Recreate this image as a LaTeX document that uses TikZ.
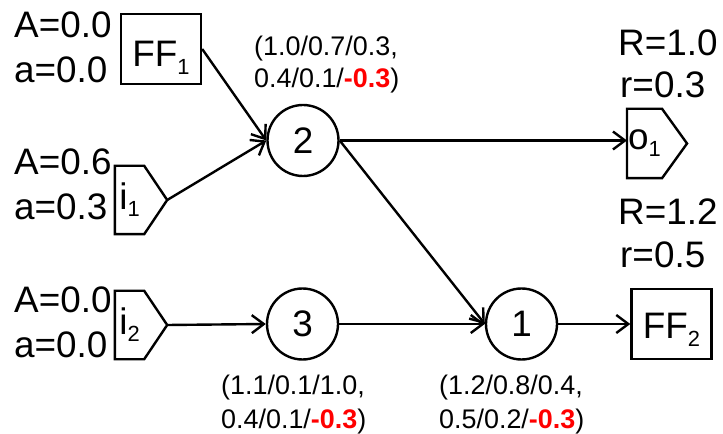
\documentclass[tikz,border=0pt]{standalone}
\usepackage{fontspec}
\setmainfont{Liberation Sans}
\usetikzlibrary{arrows.meta}
% lowered small index, e.g. FF_1
\newcommand{\lowsub}[2][8bp]{\raisebox{-#1}{\fontsize{22}{22}\selectfont #2}}
\newcommand{\negw}[1]{\textcolor{red}{\textbf{#1}}}

\begin{document}
\begin{tikzpicture}[x=1bp, y=-1bp, line width=2.4bp,
  big/.style={font=\fontsize{37}{44}\selectfont, inner sep=0pt, anchor=base west},
  param/.style={font=\fontsize{27}{32}\selectfont, inner sep=0pt, anchor=base west},
  unit/.style={circle, draw, minimum size=71bp, inner sep=0pt, font=\fontsize{37}{44}\selectfont},
  ffbox/.style={draw, rectangle, minimum width=80bp, minimum height=70bp, inner sep=0pt,
    font=\fontsize{37}{44}\selectfont, text depth=0pt},
  port/.style={rectangle, minimum width=27bp, minimum height=66bp, inner sep=0pt,
    font=\fontsize{37}{44}\selectfont},
  link/.style={-{Straight Barb[length=12bp,width=18bp]}}]
\useasboundingbox (0,0) rectangle (723,434);

% flip-flops
\node[ffbox, text height=36bp] (ff1) at (161,49) {FF\lowsub{1}};
\node[ffbox, text height=28bp] (ff2) at (671.5,324) {FF\lowsub{2}};

% processing units
\node[unit] (n2) at (303,140.5) {2};
\node[unit] (n3) at (302.5,324) {3};
\node[unit] (n1) at (521.5,324) {1};

% input and output ports (pentagon outlines)
\node[port] (i1) at (129.5,200) {i\lowsub[7bp]{1}};
\node[port] (i2) at (129.5,325) {i\lowsub[7bp]{2}};
\node[port, minimum height=67bp] (o1) at (644.5,143.5) {o\lowsub[7bp]{1}};
\coordinate (i1tip) at ([xshift=23bp]i1.east);
\coordinate (i2tip) at ([xshift=23bp]i2.east);
\coordinate (o1tip) at ([xshift=25bp]o1.east);
\foreach \p in {i1,i2,o1}
  \draw (\p.north west) -- (\p.north east) -- (\p tip) -- (\p.south east) -- (\p.south west) -- cycle;

% connections
\draw[link] (ff1.east) -- (n2.west);
\draw[link] (i1tip) -- (n2.west);
\draw[link] (i2tip) -- (n3.west);
\draw[link] (n2.east) -- (n2.east -| o1.west);
\draw[link] (n2.east) -- (n1.west);
\draw[link] (n3.east) -- (n1.west);
\draw[link] (n1.east) -- (ff2.west);

% port values
\node[big] (ff1A) at (13,38) {A=0.0};
\node[big] (ff1a) at (13,83) {a=0.0};
\node[big] (i1A) at (13,175) {A=0.6};
\node[big] (i1a) at (13,220) {a=0.3};
\node[big] (i2A) at (13,313) {A=0.0};
\node[big] (i2a) at (13,358) {a=0.0};
\node[big] (o1R) at (617,56) {R=1.0};
\node[big] (o1r) at (619,98) {r=0.3};
\node[big] (ff2R) at (617,225) {R=1.2};
\node[big] (ff2r) at (619,268) {r=0.5};

% unit parameters
\node[param] (p2a) at (253,56) {(1.0/0.7/0.3,};
\node[param] (p2b) at (253,88) {0.4/0.1/\negw{-0.3})};
\node[param] (p3a) at (220,394) {(1.1/0.1/1.0,};
\node[param] (p3b) at (220,428) {0.4/0.1/\negw{-0.3})};
\node[param] (p1a) at (438,394) {(1.2/0.8/0.4,};
\node[param] (p1b) at (438,428) {0.5/0.2/\negw{-0.3})};
\end{tikzpicture}
\end{document}
